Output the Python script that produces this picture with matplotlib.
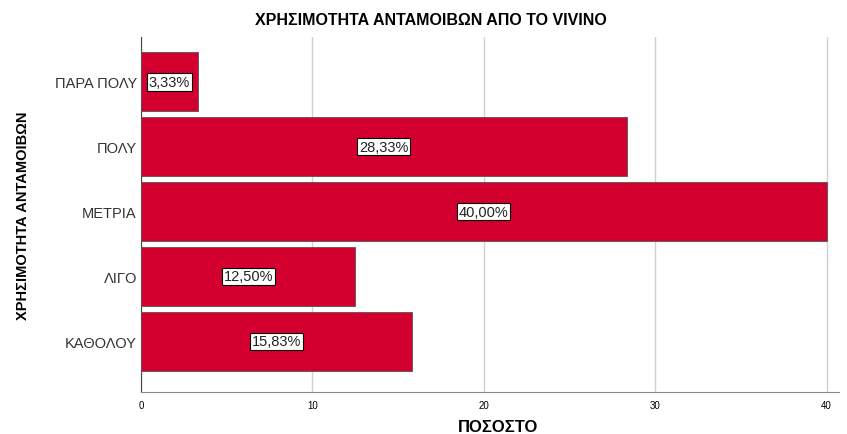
import matplotlib.pyplot as plt
import numpy as np

categories = ["ΚΑΘΟΛΟΥ", "ΛΙΓΟ", "ΜΕΤΡΙΑ", "ΠΟΛΥ", "ΠΑΡΑ ΠΟΛΥ"]
percent = [15.83, 12.50, 40.00, 28.33, 3.33]
xticks = [0, 10, 20, 30, 40]

plt.rcParams['font.family'] = ['Liberation Sans', 'DejaVu Sans']

fig = plt.figure(figsize=(8.47, 4.35), dpi=100)
ax = fig.add_axes([0.1665, 0.0966, 0.8235, 0.816])

y = np.arange(len(categories))
ax.barh(y, percent, height=0.91, color='#d3002f', edgecolor='#555555', linewidth=0.6, zorder=3)

for yi, v in zip(y, percent):
    lbl = f"{v:.2f}%".replace('.', ',')
    ax.text(v / 2, yi, lbl, ha='center', va='center', fontsize=10.5, color='#222222', zorder=4,
            bbox=dict(boxstyle='square,pad=0.12', facecolor='white', edgecolor='black', linewidth=0.8))

ax.set_xlim(0, 40.7)
ax.set_ylim(-0.78, 4.69)
ax.set_xticks(xticks)
ax.set_xticklabels([str(t) for t in xticks], fontsize=7)
ax.set_yticks(y)
ax.set_yticklabels(categories, fontsize=10.5, color='#333333')
ax.tick_params(axis='y', length=0, pad=3)
ax.tick_params(axis='x', length=0, pad=6)

ax.grid(axis='x', color='#d0d0d0', linewidth=1, zorder=0)
for s in ['top', 'right']:
    ax.spines[s].set_visible(False)
ax.spines['left'].set_color('#444444')
ax.spines['bottom'].set_color('#888888')

# titles placed in figure coords to match the original layout
fig.text(0.509, 0.954, "ΧΡΗΣΙΜΟΤΗΤΑ ΑΝΤΑΜΟΙΒΩΝ ΑΠΟ ΤΟ VIVINO", fontsize=11.5, fontweight='bold',
         ha='center', va='center')
fig.text(0.588, 0.006, "ΠΟΣΟΣΤΟ", fontsize=12, fontweight='bold', ha='center', va='baseline')
ax.set_ylabel("ΧΡΗΣΙΜΟΤΗΤΑ ΑΝΤΑΜΟΙΒΩΝ", fontsize=10.5, fontweight='bold', labelpad=18)

fig.savefig("out.png", dpi=100)
